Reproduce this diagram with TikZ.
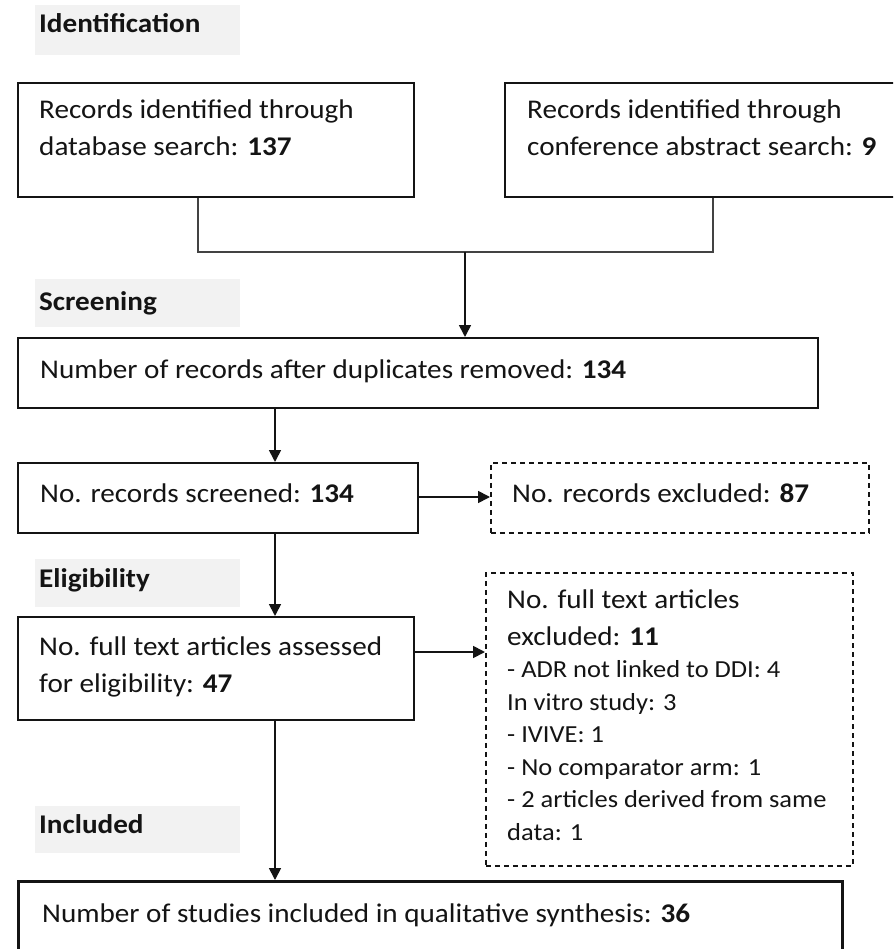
\documentclass[tikz,border=0pt]{standalone}
\usepackage{fontspec}
\setmainfont[FakeStretch=1.08]{Carlito}
\usetikzlibrary{arrows.meta}
\definecolor{hdrgray}{HTML}{F2F2F2}
\definecolor{inkc}{HTML}{141414}
\begin{document}
\begin{tikzpicture}[x=1pt,y=-1pt,
  box/.style={draw=inkc, line width=1.8pt, rectangle, inner sep=0pt, anchor=north west},
  dbox/.style={box, line width=1.6pt, dash pattern=on 5pt off 4pt},
  hdr/.style={fill=hdrgray, rectangle, inner sep=0pt, anchor=north west},
  txt/.style={anchor=base west, inner sep=0pt, text=inkc, font=\fontsize{27}{37}\selectfont, align=left},
  stxt/.style={txt, font=\fontsize{24.5}{32.5}\selectfont},
  htxt/.style={txt, font=\fontsize{27}{37}\selectfont\bfseries},
  arr/.style={draw=inkc, line width=1.7pt, -{Triangle[width=12pt,length=12pt]}},
  ln/.style={draw=inkc!80, line width=1.7pt}
]
\clip (0,0) rectangle (893,949);
\fill[white] (0,0) rectangle (893,949);
% header bands
\node[hdr, minimum width=205pt, minimum height=50pt] (h1) at (35,5) {};
\node[htxt] (h1t) at (39,33) {Identification};
\node[hdr, minimum width=205pt, minimum height=48pt] (h2) at (35,279) {};
\node[htxt] (h2t) at (39,310) {Screening};
\node[hdr, minimum width=205pt, minimum height=48pt] (h3) at (35,559) {};
\node[htxt] (h3t) at (39,587) {Eligibility};
\node[hdr, minimum width=205pt, minimum height=47pt] (h4) at (35,806) {};
\node[htxt] (h4t) at (39,833) {Included};
% boxes (multi-line texts are anchored at the baseline of their last line)
\node[box, minimum width=396pt, minimum height=114pt] (b1) at (17,82) {};
\node[txt] (b1t) at (39,156) {Records identified through\\database search: \textbf{137}};
\node[box, minimum width=418pt, minimum height=114pt] (b2) at (504,82) {};
\node[txt] (b2t) at (527,156) {Records identified through\\conference abstract search: \textbf{9}};
\node[box, minimum width=800pt, minimum height=70pt] (b3) at (17,337) {};
\node[txt] (b3t) at (40,378) {Number of records after duplicates removed: \textbf{134}};
\node[box, minimum width=400pt, minimum height=70pt] (b4) at (17,462) {};
\node[txt] (b4t) at (40,502) {No. records screened: \textbf{134}};
\node[dbox, minimum width=378pt, minimum height=70pt] (d1) at (490,462) {};
\node[txt] (d1t) at (512,502) {No. records excluded: \textbf{87}};
\node[box, minimum width=396pt, minimum height=103pt] (b5) at (17,616) {};
\node[txt] (b5t) at (39,692) {No. full text articles assessed\\for eligibility: \textbf{47}};
\node[dbox, minimum width=367pt, minimum height=293pt] (d2) at (485,572) {};
\node[txt] (d2t) at (507,645) {No. full text articles\\excluded: \textbf{11}};
\node[stxt] (d2s) at (507,840) {- ADR not linked to DDI: 4\\In vitro study: 3\\- IVIVE: 1\\- No comparator arm: 1\\- 2 articles derived from same\\data: 1};
\node[box, line width=3pt, minimum width=824pt, minimum height=110pt] (b6) at (17,880) {};
\node[txt] (b6t) at (42,922) {Number of studies included in qualitative synthesis: \textbf{36}};
% connectors
\coordinate (c1) at (198,252);
\coordinate (c2) at (713,252);
\coordinate (j) at (465,252);
\coordinate (ax) at (275,0);
\coordinate (m4) at (0,497);
\coordinate (m5) at (0,652);
\draw[ln] (c1 |- b1.south) -- (c1) -- (c2) -- (c2 |- b2.south);
\draw[arr] (j) -- (j |- b3.north);
\draw[arr] (ax |- b3.south) -- (ax |- b4.north);
\draw[arr] (b4.east |- m4) -- (d1.west |- m4);
\draw[arr] (ax |- b4.south) -- (ax |- b5.north);
\draw[arr] (b5.east |- m5) -- (d2.west |- m5);
\draw[arr] (ax |- b5.south) -- (ax |- b6.north);
\end{tikzpicture}
\end{document}
